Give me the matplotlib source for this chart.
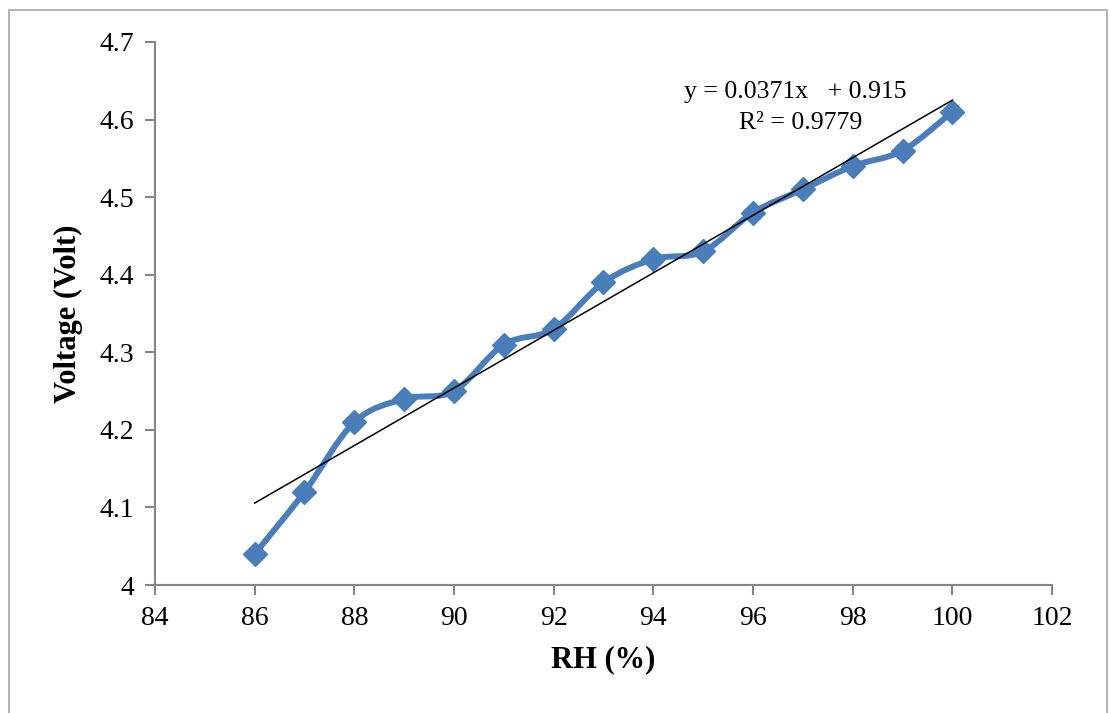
import numpy as np
import matplotlib.pyplot as plt
from matplotlib.path import Path
from matplotlib.patches import PathPatch, Rectangle

plt.rcParams['font.family'] = ['Liberation Serif', 'DejaVu Serif']

# data
rh = np.array([86, 87, 88, 89, 90, 91, 92, 93, 94, 95, 96, 97, 98, 99, 100])
voltage = np.array([4.04, 4.12, 4.21, 4.24, 4.25, 4.31, 4.33, 4.39, 4.42, 4.43,
                    4.48, 4.51, 4.54, 4.56, 4.61])
slope = 0.0371
intercept = 0.915
r2 = 0.9779

blue = '#4A7EBB'
grey = '#868686'

fig = plt.figure(figsize=(11.11, 7.13), dpi=100)
ax = fig.add_axes([0.1395, 0.1795, 0.8074, 0.7616])

# outer chart border
fig.patches.append(Rectangle((0.008, -0.01), 0.988, 0.996, transform=fig.transFigure,
                             fill=False, edgecolor='#a6a6a6', linewidth=1.2))

# smoothed series line (bezier through the data points, like Excel's smoothing)
pts = np.column_stack([rh, voltage]).astype(float)
verts = [pts[0]]
codes = [Path.MOVETO]
n = len(pts)
for i in range(n - 1):
    p0 = pts[i - 1] if i > 0 else pts[i]
    p1 = pts[i]
    p2 = pts[i + 1]
    p3 = pts[i + 2] if i + 2 < n else pts[i + 1]
    verts += [p1 + (p2 - p0) / 6.0, p2 - (p3 - p1) / 6.0, p2]
    codes += [Path.CURVE4] * 3
ax.add_patch(PathPatch(Path(verts, codes), facecolor='none', edgecolor=blue,
                       linewidth=4.3, capstyle='round', joinstyle='round', zorder=2))
ax.plot(rh, voltage, linestyle='none', marker='D', markersize=12,
        color=blue, zorder=3)

# linear trendline
xfit = np.array([rh.min(), rh.max()])
ax.plot(xfit, slope * xfit + intercept, color='black', linewidth=1.1, zorder=4)

ax.text(96.85, 4.636, 'y = %.4fx   + %.3f' % (slope, intercept), fontsize=18.5,
        ha='center', va='center')
ax.text(96.95, 4.596, 'R² = %.4f' % r2, fontsize=18.5, ha='center', va='center')

ax.set_xlim(84, 102)
ax.set_ylim(4, 4.7)
ax.set_xticks(np.arange(84, 103, 2))
ax.set_yticks(np.arange(4, 4.71, 0.1))
ax.set_yticklabels(['4', '4.1', '4.2', '4.3', '4.4', '4.5', '4.6', '4.7'])

for s in ['top', 'right']:
    ax.spines[s].set_visible(False)
for s in ['left', 'bottom']:
    ax.spines[s].set_color(grey)
    ax.spines[s].set_linewidth(1.5)
ax.tick_params(axis='both', direction='out', length=7, width=1.5, color=grey,
               labelsize=20, pad=8)

ax.set_xlabel('RH (%)', fontsize=22, fontweight='bold', labelpad=10)
ax.set_ylabel('Voltage (Volt)', fontsize=22, fontweight='bold', labelpad=12)

fig.savefig('out.png', dpi=100)
